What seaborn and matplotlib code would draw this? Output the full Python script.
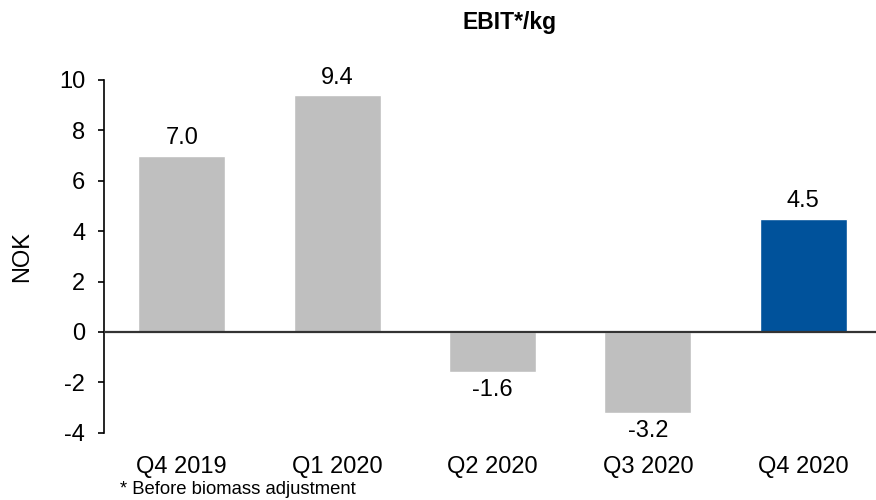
import matplotlib
matplotlib.use("Agg")
import matplotlib.pyplot as plt
import pandas as pd
import seaborn as sns

# Data
quarters = ["Q4 2019", "Q1 2020", "Q2 2020", "Q3 2020", "Q4 2020"]
ebit_per_kg = [7.0, 9.4, -1.6, -3.2, 4.5]
bar_colors = ["#BFBFBF", "#BFBFBF", "#BFBFBF", "#BFBFBF", "#00529B"]
y_ticks = [-4, -2, 0, 2, 4, 6, 8, 10]

df = pd.DataFrame({"quarter": quarters, "value": ebit_per_kg})

sns.set_theme(style="white")
plt.rcParams["font.family"] = ["Liberation Sans", "DejaVu Sans"]
plt.rcParams["text.color"] = "black"
plt.rcParams["axes.labelcolor"] = "black"

fig = plt.figure(figsize=(8.76, 5), dpi=100)
ax = fig.add_axes([104 / 876, 0.1346, 777 / 876, 0.7054])

sns.barplot(data=df, x="quarter", y="value", hue="quarter",
            palette=bar_colors, legend=False, width=0.56, saturation=1, ax=ax)

# zero line
ax.axhline(0, color="#333333", lw=1.6, zorder=3)

# value labels
for i, v in enumerate(ebit_per_kg):
    if v >= 0:
        ax.text(i, v + 0.25, f"{v:.1f}", ha="center", va="bottom", fontsize=17)
    else:
        ax.text(i, v - 0.28, f"{v:.1f}", ha="center", va="top", fontsize=17)

ax.set_xlim(-0.5, 4.5)
ax.set_ylim(-4, 10)
ax.set_yticks(y_ticks)
ax.set_yticklabels([str(t) for t in y_ticks])
for s in ["top", "right", "bottom"]:
    ax.spines[s].set_visible(False)
ax.spines["left"].set_color("black")
ax.spines["left"].set_linewidth(1.2)
ax.tick_params(axis="y", left=True, length=4.5, width=1.2, pad=9, labelsize=17, colors="black")
ax.tick_params(axis="x", bottom=False, length=0, pad=17, labelsize=17, colors="black")

ax.set_xlabel("")
ax.set_ylabel("NOK", fontsize=17)
ax.yaxis.set_label_coords(-(104 - 33) / 777, 0.5)

fig.text(510 / 876, 1 - 23 / 500, "EBIT*/kg", ha="center", va="center",
         fontsize=16.5, fontweight="bold")
fig.text(120 / 876, 1 - 490 / 500, "* Before biomass adjustment", ha="left",
         va="center", fontsize=13.3)

fig.savefig("out.png", dpi=100)
